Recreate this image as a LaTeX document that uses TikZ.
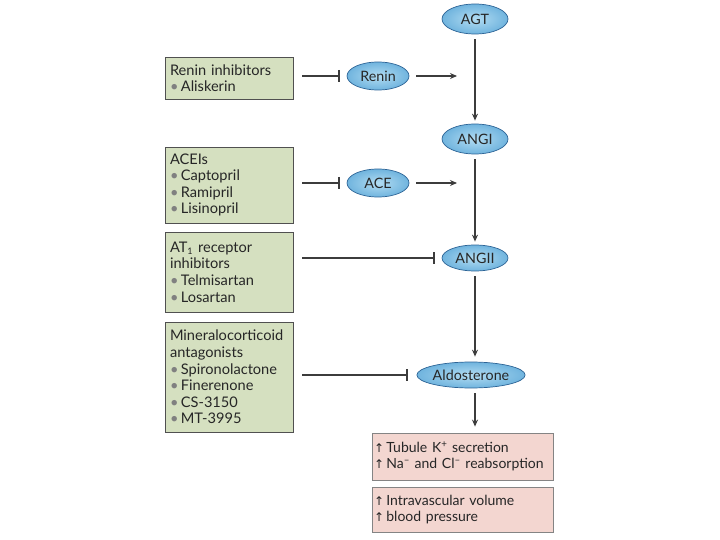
\documentclass[tikz,border=0pt]{standalone}
\usepackage{fontspec}
\setmainfont{Lato}
\newfontfamily\symfont{DejaVu Sans}
\usetikzlibrary{shapes.geometric,arrows.meta}
\definecolor{drugfill}{RGB}{213,224,192}
\definecolor{effectfill}{RGB}{243,214,208}
\definecolor{ellin}{RGB}{178,220,242}
\definecolor{ellout}{RGB}{112,180,222}
\definecolor{elldraw}{RGB}{45,100,150}
\definecolor{boxdraw}{RGB}{80,80,80}
\definecolor{linecol}{RGB}{60,60,60}
\newcommand{\bul}{\textcolor{gray}{\textbullet}\,}
\newcommand{\uparr}{{\symfont\fontsize{12}{12}\selectfont ↑}}
\newcommand{\nohyph}{\hyphenpenalty=10000\relax}
\begin{document}
\begin{tikzpicture}[x=1pt,y=-1pt,
  mol/.style={ellipse, draw=elldraw, inner color=ellin, outer color=ellout, line width=0.7pt, inner sep=0pt,
    font=\fontsize{14.3}{15}\selectfont, text=black!85},
  drugbox/.style={draw=boxdraw, fill=drugfill, line width=0.8pt, minimum width=128pt,
    text width=118pt, align=left, inner xsep=5pt, inner ysep=4pt, font=\fontsize{14.6}{16.6}\selectfont\nohyph, text=black!85},
  effbox/.style={draw=boxdraw!70, fill=effectfill, line width=0.8pt, minimum width=181pt,
    text width=177pt, align=left, inner xsep=2pt, inner ysep=4pt, font=\fontsize{14}{16}\selectfont\nohyph, text=black!85},
  conn/.style={draw=linecol, line width=1.3pt},
  act/.style={conn, -{Stealth[length=7pt,width=6pt]}},
  inh/.style={conn, -{Bar[width=12pt,line width=1.3pt]}}
]
\useasboundingbox (0,0) rectangle (720,540);

% molecules
\node[mol, minimum width=66pt, minimum height=30pt] (AGT) at (475,19) {AGT};
\node[mol, minimum width=66pt, minimum height=30pt] (ANGI) at (475,139) {ANGI};
\node[mol, minimum width=66pt, minimum height=26pt] (ANGII) at (475,258) {ANGII};
\node[mol, minimum width=88pt, minimum height=26pt] (Ald) at (471,375) {Aldosterone};
\node[mol, minimum width=62pt, minimum height=28pt] (Renin) at (378,76) {Renin};
\node[mol, minimum width=62pt, minimum height=28pt] (ACE) at (378,183) {ACE};

% drug boxes
\node[drugbox, minimum height=42pt] (B1) at (229,78) {Renin inhibitors\\\bul Aliskerin};
\node[drugbox, minimum height=76pt] (B2) at (229,185) {ACEIs\\\bul Captopril\\\bul Ramipril\\\bul Lisinopril};
\node[drugbox, minimum height=80pt] (B3) at (229,272) {AT\textsubscript{\fontsize{9}{9}\selectfont 1} receptor\\inhibitors\\\bul Telmisartan\\\bul Losartan};
\node[drugbox, minimum height=110pt] (B4) at (229,377) {Mineralocorticoid\\antagonists\\\bul Spironolactone\\\bul Finerenone\\\bul CS-3150\\\bul MT-3995};

% effect boxes
\node[effbox, minimum height=47pt] (E1) at (462.5,456.5) {\uparr\,Tubule K\textsuperscript{+} secretion\\\uparr\,Na\textsuperscript{–} and Cl\textsuperscript{–} reabsorption};
\node[effbox, minimum height=45pt] (E2) at (462.5,509.5) {\uparr\,Intravascular volume\\\uparr\,blood pressure};

% free ends
\coordinate (r1) at (457,76);
\coordinate (r2) at (457,183);

% connectors
\draw[inh, shorten <=9pt, shorten >=7pt] (B1.east |- Renin) -- (Renin.west);
\draw[act, shorten <=7pt] (Renin.east) -- (r1);
\draw[inh, shorten <=9pt, shorten >=7pt] (B2.east |- ACE) -- (ACE.west);
\draw[act, shorten <=7pt] (ACE.east) -- (r2);
\draw[inh, shorten <=9pt, shorten >=7pt] (B3.east |- ANGII) -- (ANGII.west);
\draw[inh, shorten <=9pt, shorten >=9pt] (B4.east |- Ald) -- (Ald.west);

\draw[act, shorten <=5pt, shorten >=3pt] (AGT.south) -- (ANGI.north);
\draw[act, shorten <=5pt, shorten >=3pt] (ANGI.south) -- (ANGII.north);
\draw[act, shorten <=5pt, shorten >=5pt] (ANGII.south) -- (ANGII.south |- Ald.north);
\draw[act, shorten <=5pt, shorten >=6pt] (Ald.south -| ANGII.south) -- (ANGII.south |- E1.north);
\end{tikzpicture}
\end{document}
